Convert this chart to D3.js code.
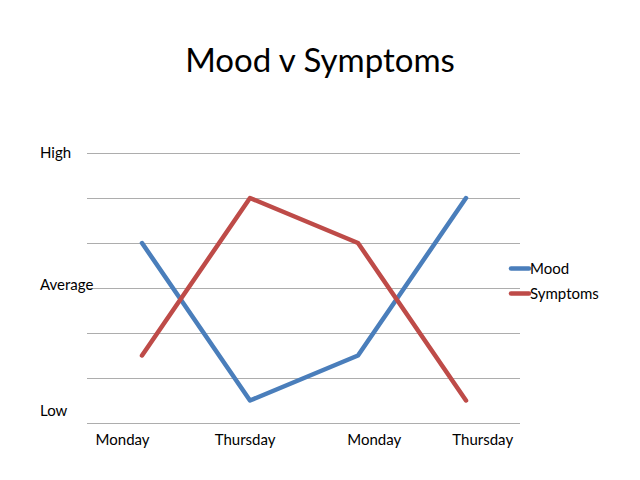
<!DOCTYPE html>
<html>
<head>
<meta charset="utf-8">
<script src="https://cdn.jsdelivr.net/npm/d3@7"></script>
<style>
  html, body { margin: 0; padding: 0; background: #fff; }
  svg { display: block; font-family: Lato, "Open Sans", sans-serif; }
</style>
</head>
<body>
<svg id="chart" width="640" height="480"></svg>
<script>
// ---- data ----
const categories = ["Monday", "Thursday", "Monday", "Thursday"];
const moodValues = [4, 0.5, 1.5, 5];
const symptomValues = [1.5, 5, 4, 0.5];
const seriesNames = ["Mood", "Symptoms"];
const gridValues = [0, 1, 2, 3, 4, 5, 6];
const yTickLabels = ["High", "Average", "Low"];
const yTickValues = [6, 3.07, 0.27];
const xLabelSlots = [-0.18, 0.955, 2.15, 3.155];

// ---- layout ----
const svg = d3.select("#chart");
const plot = { left: 87, right: 520, top: 153, bottom: 423 };
const colors = ["#4A7EBB", "#BE4B48"];

const x = d3.scaleLinear().domain([0, 3]).range([142, 466]);
const y = d3.scaleLinear().domain([0, 6]).range([plot.bottom, plot.top]);

// title
svg.append("text")
  .attr("x", 320).attr("y", 72)
  .attr("text-anchor", "middle")
  .attr("font-size", 33)
  .attr("fill", "#000")
  .text("Mood v Symptoms");

// gridlines
svg.append("g").selectAll("line").data(gridValues).join("line")
  .attr("x1", plot.left).attr("x2", plot.right)
  .attr("y1", d => Math.round(y(d)) + 0.5)
  .attr("y2", d => Math.round(y(d)) + 0.5)
  .attr("stroke", "#ADADAD").attr("stroke-width", 1);

// y labels
svg.append("g").selectAll("text").data(yTickValues).join("text")
  .attr("x", 40).attr("y", d => y(d))
  .attr("dy", "0.35em")
  .attr("font-size", 15)
  .attr("fill", "#000")
  .text((d, i) => yTickLabels[i]);

// x labels
svg.append("g").selectAll("text").data(categories).join("text")
  .attr("x", (d, i) => x(xLabelSlots[i]))
  .attr("y", 445)
  .attr("text-anchor", "middle")
  .attr("font-size", 15)
  .attr("fill", "#000")
  .text(d => d);

// lines
const line = d3.line().x((d, i) => x(i)).y(d => y(d));
[moodValues, symptomValues].forEach((vals, k) => {
  svg.append("path")
    .datum(vals)
    .attr("d", line)
    .attr("fill", "none")
    .attr("stroke", colors[k])
    .attr("stroke-width", 4.5)
    .attr("stroke-linejoin", "round")
    .attr("stroke-linecap", "round");
});

// legend
const legend = svg.append("g");
seriesNames.forEach((name, k) => {
  const ly = 268.5 + k * 25;
  legend.append("line")
    .attr("x1", 511).attr("x2", 529)
    .attr("y1", ly).attr("y2", ly)
    .attr("stroke", colors[k]).attr("stroke-width", 4.5)
    .attr("stroke-linecap", "round");
  legend.append("text")
    .attr("x", 530).attr("y", ly)
    .attr("dy", "0.35em")
    .attr("font-size", 15)
    .attr("fill", "#000")
    .text(name);
});
</script>
</body>
</html>
